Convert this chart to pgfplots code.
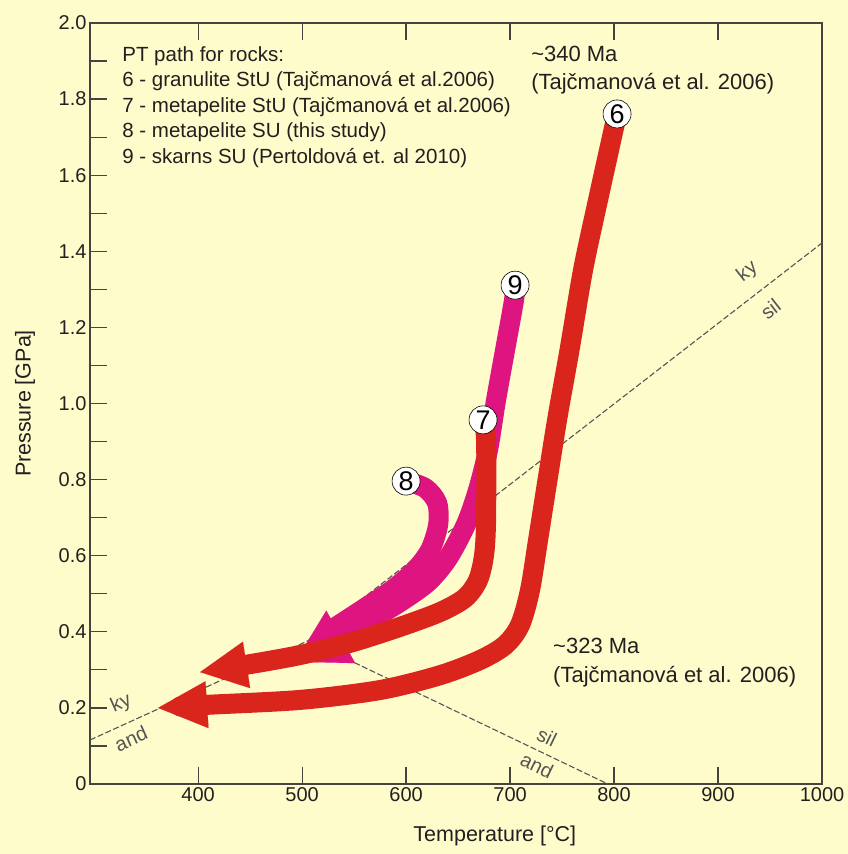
\documentclass[border=0pt]{standalone}
\usepackage{fontspec}
\setmainfont{Liberation Sans}
\usepackage{pgfplots}
\pgfplotsset{compat=1.18}
\usetikzlibrary{arrows.meta}
\definecolor{bg}{RGB}{255,252,204}
\definecolor{redp}{RGB}{218,37,29}
\definecolor{pinkp}{RGB}{222,20,128}
\definecolor{axc}{RGB}{70,68,64}
\definecolor{txt}{RGB}{35,31,32}
\definecolor{lgray}{RGB}{85,85,85}
\begin{document}
\begin{tikzpicture}[font=\fontsize{20}{24}\selectfont]
\fill[bg] (-90pt,-70pt) rectangle (758pt,784pt);
\useasboundingbox (-90pt,-70pt) rectangle (758pt,784pt);
\begin{axis}[
  at={(0pt,0pt)}, anchor=south west,
  scale only axis, width=732pt, height=761pt,
  xmin=296, xmax=1000, ymin=0, ymax=2,
  clip=false,
  axis line style={draw=axc, line width=1.4pt},
  tick style={draw=axc, line width=1.2pt},
  tick align=inside,
  major tick length=17pt, minor tick length=17pt,
  xtick={400,500,600,700,800,900,1000},
  xticklabels={400,500,600,700,800,900,1000},
  xtick pos=both,
  ytick={0,0.2,0.4,0.6,0.8,1.0,1.2,1.4,1.6,1.8,2.0},
  yticklabels={0,0.2,0.4,0.6,0.8,1.0,1.2,1.4,1.6,1.8,2.0},
  minor ytick={0.1,0.3,0.5,0.7,0.9,1.1,1.3,1.5,1.7,1.9},
  ytick pos=left,
  tick label style={font=\fontsize{20}{24}\selectfont, text=txt},
  /pgf/number format/assume math mode=true,
  xlabel={Temperature [°C]},
  ylabel={Pressure [GPa]},
  xlabel style={at={(axis description cs:0.553,-0.0683)}, anchor=center, font=\fontsize{21.5}{25}\selectfont, text=txt},
  ylabel style={at={(axis description cs:-0.0888,0.5)}, anchor=center, font=\fontsize{21.5}{25}\selectfont, text=txt},
]
% aluminosilicate phase boundaries
\addplot[lgray, line width=1.1pt, dash pattern=on 6pt off 2.5pt, no markers]
  coordinates {(296,0.1156) (506,0.377) (1000,1.422)};
\addplot[lgray, line width=1.1pt, dash pattern=on 6pt off 2.5pt, no markers]
  coordinates {(506,0.377) (794,0)};
\tikzset{phase/.style={text=lgray, inner sep=0pt, font=\fontsize{20}{22}\selectfont}}
\node[phase, rotate=24] at (axis cs:326.0,0.210) {ky};
\node[phase, rotate=24] at (axis cs:335.4,0.119) {and};
\node[phase, rotate=38] at (axis cs:928.3,1.346) {ky};
\node[phase, rotate=38] at (axis cs:950.6,1.248) {sil};
\node[phase, rotate=-26] at (axis cs:735.6,0.124) {sil};
\node[phase, rotate=-26] at (axis cs:726.0,0.048) {and};
% legend text
\tikzset{lab/.style={anchor=base west, text=txt, inner sep=0pt}}
\node[lab, font=\fontsize{20.5}{24}\selectfont] at (axis cs:326.9,1.8975) {PT path for rocks:};
\node[lab, font=\fontsize{20.5}{24}\selectfont] at (axis cs:326.9,1.832) {6 - granulite StU (Tajčmanová et al.2006)};
\node[lab, font=\fontsize{20.5}{24}\selectfont] at (axis cs:326.9,1.766) {7 - metapelite StU (Tajčmanová et al.2006)};
\node[lab, font=\fontsize{20.5}{24}\selectfont] at (axis cs:326.9,1.698) {8 - metapelite SU (this study)};
\node[lab, font=\fontsize{20.5}{24}\selectfont] at (axis cs:326.9,1.6315) {9 - skarns SU (Pertoldová et. al 2010)};
\node[lab, font=\fontsize{22}{26}\selectfont] at (axis cs:720.2,1.8975) {\textasciitilde340 Ma};
\node[lab, font=\fontsize{22}{26}\selectfont] at (axis cs:720.2,1.825) {(Tajčmanová et al. 2006)};
\node[lab, font=\fontsize{22}{26}\selectfont] at (axis cs:741.3,0.344) {\textasciitilde323 Ma};
\node[lab, font=\fontsize{22}{26}\selectfont] at (axis cs:741.3,0.268) {(Tajčmanová et al. 2006)};
% path 8 (pink)
\addplot[pinkp, line width=20pt, smooth, line cap=butt, line join=round, no markers]
  coordinates {(600.0,0.796) (618.3,0.778) (629.8,0.739) (630.8,0.681) (623.1,0.615)
               (608.7,0.562) (586.5,0.510) (560.6,0.463) (536.5,0.420) (518.8,0.389)};
% path 9 (pink)
\addplot[pinkp, line width=20pt, smooth, line cap=round, line join=round, no markers,
  -{Triangle[length=52pt, width=60pt, line width=0.1pt]}]
  coordinates {(704.8,1.311) (703.8,1.272) (695.2,1.141) (686.5,1.009) (678.8,0.878)
               (669.2,0.773) (657.7,0.683) (640.4,0.594) (621.2,0.531) (594.2,0.478)
               (565.4,0.431) (538.5,0.389) (493.3,0.321)};
% path 6 (red)
\addplot[redp, line width=20pt, smooth, line cap=butt, line join=round, no markers,
  -{Triangle[length=49pt, width=47pt, line width=0.1pt]}]
  coordinates {(802.9,1.761) (784.6,1.535) (770.2,1.351) (757.2,1.141) (745.7,0.965)
               (736.0,0.799) (726.9,0.641) (719.2,0.510) (709.6,0.418) (695.2,0.365)
               (671.2,0.326) (632.7,0.286) (575.0,0.247) (498.1,0.221) (408.7,0.208) (361.5,0.200)};
% path 7 (red)
\addplot[redp, line width=20pt, smooth, line cap=butt, line join=round, no markers,
  -{Triangle[length=47pt, width=47pt, line width=0.1pt]}]
  coordinates {(674.0,0.957) (676.9,0.904) (676.9,0.694) (675.0,0.602) (669.2,0.536)
               (656.7,0.489) (632.7,0.452) (594.2,0.413) (546.2,0.371) (498.1,0.339)
               (450.0,0.315) (401.9,0.294)};
% numbered markers
\tikzset{num/.style={circle, draw=black, fill=white, line width=0.6pt, inner sep=0pt,
  minimum size=28pt, font=\fontsize{27}{27}\selectfont}}
\node[num] at (axis cs:802.9,1.761) {6};
\node[num] at (axis cs:674.0,0.957) {7};
\node[num] at (axis cs:600.0,0.796) {8};
\node[num] at (axis cs:704.8,1.311) {9};
\end{axis}
\end{tikzpicture}
\end{document}
